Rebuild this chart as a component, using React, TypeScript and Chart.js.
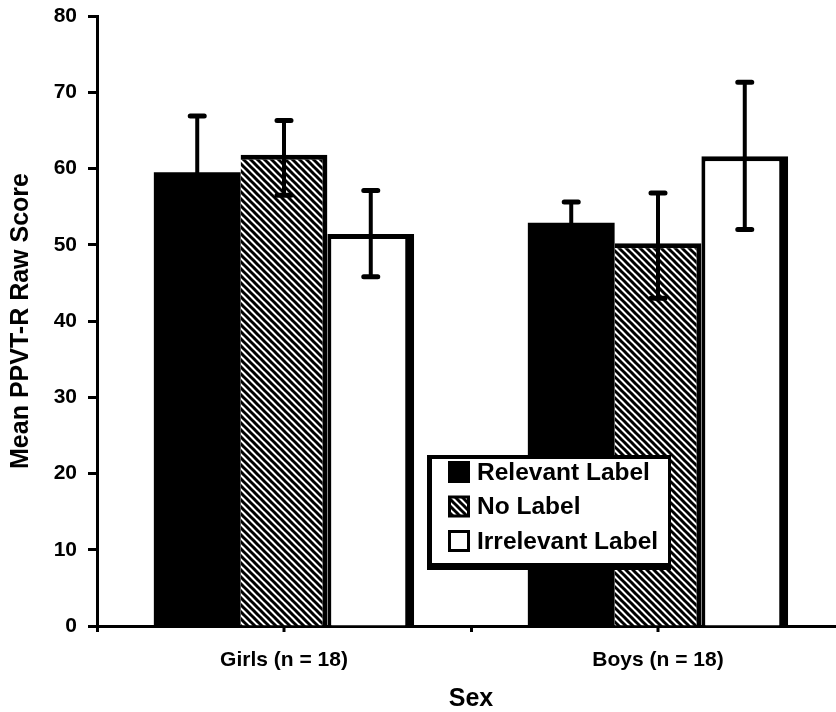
import React, { useEffect, useRef } from "react";
import { Chart, registerables } from "chart.js";

Chart.register(...registerables);

const categories = ["Girls (n = 18)", "Boys (n = 18)"];
const seriesNames = ["Relevant Label", "No Label", "Irrelevant Label"];

const relevantMeans = [59.5, 52.9];
const noLabelMeans = [61.8, 50.2];
const irrelevantMeans = [51.4, 61.6];

const relevantErrLow = [52.1, 50.2];
const relevantErrHigh = [66.9, 55.6];
const noLabelErrLow = [56.5, 43.0];
const noLabelErrHigh = [66.3, 56.8];
const irrelevantErrLow = [45.8, 52.0];
const irrelevantErrHigh = [57.1, 71.3];

const yTicks = [0, 10, 20, 30, 40, 50, 60, 70, 80];

const xTitle = "Sex";
const yTitle = "Mean PPVT-R Raw Score";

const FONT = "'Liberation Sans', Arial, Helvetica, sans-serif";

function makeHatch(ctx: CanvasRenderingContext2D) {
  const s = 7;
  const c = document.createElement("canvas");
  c.width = s;
  c.height = s;
  const g = c.getContext("2d")!;
  g.fillStyle = "#fff";
  g.fillRect(0, 0, s, s);
  g.strokeStyle = "#000";
  g.lineWidth = 3;
  g.beginPath();
  for (let k = -1; k <= 1; k++) {
    g.moveTo(k * s - 1, -1);
    g.lineTo(k * s + s + 1, s + 1);
  }
  g.stroke();
  return ctx.createPattern(c, "repeat");
}

const errorBarPlugin = {
  id: "errorBars",
  afterDatasetsDraw(chart: any) {
    const ctx = chart.ctx;
    const y = chart.scales.y;
    chart.data.datasets.forEach((ds: any, di: number) => {
      const meta = chart.getDatasetMeta(di);
      meta.data.forEach((bar: any, i: number) => {
        const lo = y.getPixelForValue(ds.errLow[i]);
        const hi = y.getPixelForValue(ds.errHigh[i]);
        const x = bar.x;
        ctx.save();
        ctx.strokeStyle = "#000";
        ctx.lineWidth = 4;
        ctx.beginPath();
        ctx.moveTo(x, lo);
        ctx.lineTo(x, hi);
        ctx.stroke();
        ctx.lineWidth = 5;
        ctx.lineCap = "round";
        ctx.beginPath();
        ctx.moveTo(x - 7, hi);
        ctx.lineTo(x + 7, hi);
        ctx.moveTo(x - 7, lo);
        ctx.lineTo(x + 7, lo);
        ctx.stroke();
        ctx.restore();
      });
    });
  },
};

const centerTicksPlugin = {
  id: "centerTicks",
  afterDraw(chart: any) {
    const ctx = chart.ctx;
    const xs = chart.scales.x;
    const bottom = chart.chartArea.bottom;
    ctx.save();
    ctx.strokeStyle = "#000";
    ctx.lineWidth = 3;
    categories.forEach((_, i) => {
      const px = xs.getPixelForValue(i);
      ctx.beginPath();
      ctx.moveTo(px, bottom);
      ctx.lineTo(px, bottom + 6);
      ctx.stroke();
    });
    ctx.restore();
  },
};

const boxLegendPlugin = {
  id: "boxLegend",
  afterDraw(chart: any) {
    const ctx = chart.ctx;
    const ca = chart.chartArea;
    const left = ca.left + 330;
    const top = ca.top + 439;
    const w = 244;
    const h = 115;
    ctx.save();
    ctx.fillStyle = "#000";
    ctx.fillRect(left, top, w, h);
    ctx.fillStyle = "#fff";
    ctx.fillRect(left + 5, top + 4, w - 8, h - 11);
    const rowH = 34.5;
    chart.data.datasets.forEach((ds: any, i: number) => {
      const cy = top + 17 + i * rowH;
      const sx = left + 21;
      const sz = 22;
      ctx.fillStyle = "#000";
      ctx.fillRect(sx, cy - sz / 2, sz, sz);
      if (i > 0) {
        ctx.fillStyle = ds.backgroundColor;
        ctx.fillRect(sx + 3, cy - sz / 2 + 3, sz - 6, sz - 6);
      }
      ctx.fillStyle = "#000";
      ctx.font = `bold 24.5px ${FONT}`;
      ctx.textBaseline = "middle";
      ctx.textAlign = "left";
      ctx.fillText(ds.label, sx + 29, cy + 1);
    });
    ctx.restore();
  },
};

export default function App() {
  const ref = useRef<HTMLCanvasElement>(null);
  useEffect(() => {
    const canvas = ref.current!;
    const ctx = canvas.getContext("2d")!;
    const hatch = makeHatch(ctx);
    const common = { barPercentage: 1, categoryPercentage: 0.696, borderColor: "#000", borderSkipped: "start" };
    const chart = new Chart(ctx, {
      type: "bar",
      data: {
        labels: categories,
        datasets: [
          {
            ...common,
            label: seriesNames[0],
            data: relevantMeans,
            errLow: relevantErrLow,
            errHigh: relevantErrHigh,
            backgroundColor: "#000",
            borderWidth: 0,
          },
          {
            ...common,
            label: seriesNames[1],
            data: noLabelMeans,
            errLow: noLabelErrLow,
            errHigh: noLabelErrHigh,
            backgroundColor: hatch,
            borderWidth: { top: 5, right: 5, left: 0, bottom: 0 },
          },
          {
            ...common,
            label: seriesNames[2],
            data: irrelevantMeans,
            errLow: irrelevantErrLow,
            errHigh: irrelevantErrHigh,
            backgroundColor: "#fff",
            borderWidth: { top: 5, right: 9, left: 4, bottom: 0 },
          },
        ] as any,
      },
      options: {
        animation: false,
        responsive: false,
        maintainAspectRatio: false,
        layout: { padding: { top: 16, right: 15, left: 0, bottom: 0 } },
        plugins: { legend: { display: false }, tooltip: { enabled: false } },
        scales: {
          x: {
            type: "category",
            offset: true,
            grid: {
              offset: true,
              drawOnChartArea: false,
              drawTicks: true,
              tickLength: 6,
              tickWidth: 3,
              tickColor: "#000",
            },
            border: { display: true, color: "#000", width: 3 },
            ticks: { color: "#000", font: { family: FONT, size: 21, weight: "bold" }, padding: 16, maxRotation: 0 },
            title: {
              display: true,
              text: xTitle,
              color: "#000",
              font: { family: FONT, size: 25, weight: "bold", lineHeight: 1 },
              padding: { top: 0, bottom: 0 },
            },
            afterFit: (s: any) => {
              s.height = 86;
              s.paddingLeft = 0;
              s.paddingRight = 0;
            },
          },
          y: {
            min: 0,
            max: 80,
            afterBuildTicks: (s: any) => {
              s.ticks = yTicks.map((v) => ({ value: v }));
            },
            ticks: { color: "#000", font: { family: FONT, size: 21, weight: "bold" }, padding: 11 },
            grid: { drawOnChartArea: false, tickLength: 9, tickWidth: 3, tickColor: "#000" },
            border: { color: "#000", width: 3 },
            title: {
              display: true,
              text: yTitle,
              color: "#000",
              font: { family: FONT, size: 25, weight: "bold", lineHeight: 1 },
              padding: { top: 9, bottom: 0 },
            },
            afterFit: (s: any) => {
              s.width = 97;
              s.paddingTop = 0;
              s.paddingBottom = 0;
            },
          },
        },
      } as any,
      plugins: [errorBarPlugin, centerTicksPlugin, boxLegendPlugin],
    });
    return () => chart.destroy();
  }, []);
  return (
    <div style={{ position: "fixed", left: 0, top: 0, width: 836, height: 712, overflow: "hidden", background: "#fff" }}>
      <canvas ref={ref} width={860} height={712} style={{ display: "block", width: 860, height: 712 }} />
    </div>
  );
}
